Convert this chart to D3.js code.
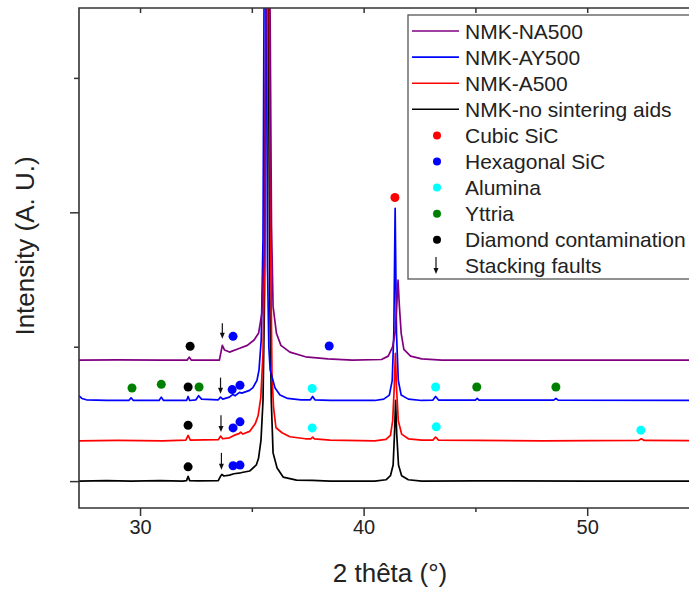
<!DOCTYPE html>
<html>
<head>
<meta charset="utf-8">
<script src="https://cdn.jsdelivr.net/npm/d3@7"></script>
<style>
  body { margin: 0; background: #fff; }
  text { font-family: "Liberation Sans", Arial, sans-serif; fill: #222; }
</style>
</head>
<body>
<div id="container"></div>
<script>
// 2 theta (deg) vs raw counts above each pattern's own baseline
const blackPattern = [
  [27.27, 0], [28.5, 3], [29.6, 0], [30.9, 4], [31.9, 0], [32.08, 4], [32.15, 35], [32.22, 4],
  [32.6, 2], [33.5, 4], [33.58, 30], [33.66, 50], [33.75, 38], [34.0, 45], [34.2, 55], [34.5, 62],
  [34.9, 75], [35.2, 120], [35.3, 170], [35.41, 305], [35.5, 600], [35.57, 1400], [35.63, 3500],
  [35.68, 6000], [35.74, 3500], [35.8, 1400], [35.87, 600], [35.95, 210], [36.13, 97], [36.4, 30],
  [37.0, 7], [37.7, 5], [38.5, 0], [40.5, 0], [41.0, 10], [41.2, 40], [41.32, 120], [41.38, 350],
  [41.43, 600], [41.48, 350], [41.56, 120], [41.7, 40], [42.0, 10], [42.6, 0], [45, 2], [50, 0], [55, 0]
];
const redPattern = [
  [27.27, 0], [29, 3], [31, 0], [32.05, 5], [32.15, 40], [32.25, 5], [33.5, 8], [33.6, 35], [33.7, 15],
  [34.0, 22], [34.2, 40], [34.45, 55], [34.5, 65], [34.6, 50], [34.9, 70], [35.15, 126], [35.28, 186],
  [35.4, 320], [35.5, 650], [35.58, 1500], [35.65, 3500], [35.71, 6000], [35.77, 3500], [35.84, 1500],
  [35.9, 500], [35.97, 250], [36.08, 97], [36.35, 60], [36.7, 30], [37.4, 15], [37.65, 15], [37.72, 28],
  [37.8, 15], [38.5, 5], [40.5, 0], [41.0, 10], [41.2, 40], [41.3, 150], [41.37, 400], [41.42, 650],
  [41.47, 400], [41.55, 150], [41.7, 50], [42.0, 15], [42.6, 5], [43.1, 5], [43.22, 28], [43.35, 5],
  [45, 3], [48, 0], [52.3, 3], [52.42, 15], [52.55, 3], [55, 0]
];
const bluePattern = [
  [27.27, 35], [27.4, 15], [27.6, 5], [28.5, 0], [29.5, 0], [29.6, 20], [29.7, 0], [30.85, 0],
  [30.95, 25], [31.05, 0], [32.08, 0], [32.15, 30], [32.22, 0], [32.5, 5], [32.62, 35], [32.75, 10],
  [33.5, 5], [33.6, 25], [33.7, 10], [34.0, 25], [34.15, 45], [34.25, 35], [34.45, 60], [34.55, 55],
  [34.9, 75], [35.05, 95], [35.23, 150], [35.32, 226], [35.42, 450], [35.5, 1200], [35.56, 3500],
  [35.6, 6000], [35.66, 3000], [35.7, 1000], [35.76, 400], [35.82, 226], [36.04, 92], [36.26, 40],
  [36.6, 15], [37.2, 5], [37.62, 5], [37.72, 30], [37.82, 5], [38.5, 0], [40.5, 0], [40.9, 10],
  [41.15, 40], [41.28, 150], [41.35, 500], [41.41, 1430], [41.47, 500], [41.55, 150], [41.68, 40],
  [42.0, 10], [42.6, 0], [43.1, 3], [43.22, 30], [43.35, 3], [45.0, 3], [45.08, 15], [45.16, 3],
  [48.5, 3], [48.6, 15], [48.7, 3], [55, 0]
];
const purplePattern = [
  [27.27, 0], [29, 2], [31, 0], [32.1, 0], [32.2, 22], [32.3, 0], [33.55, 0], [33.62, 60], [33.68, 110],
  [33.78, 75], [34.0, 60], [34.4, 85], [34.8, 110], [35.1, 150], [35.3, 200], [35.45, 350], [35.55, 800],
  [35.65, 3000], [35.72, 6000], [35.8, 3000], [35.88, 1000], [35.95, 400], [36.1, 200], [36.3, 110],
  [36.7, 60], [37.4, 25], [38.4, 10], [39.5, 0], [40.8, 5], [41.1, 30], [41.3, 100], [41.42, 220],
  [41.48, 400], [41.54, 595], [41.6, 400], [41.68, 200], [41.8, 80], [42.1, 30], [42.6, 10], [43.5, 0], [55, 0]
];

const seriesNames = ["NMK-NA500", "NMK-AY500", "NMK-A500", "NMK-no sintering aids"];
const seriesColors = ["#800080", "#0000ff", "#ff0000", "#000000"];
const seriesOffsets = [900, 600, 300, 0];
const seriesData = [purplePattern, bluePattern, redPattern, blackPattern];

const phaseNames = ["Cubic SiC", "Hexagonal SiC", "Alumina", "Yttria", "Diamond contamination"];
const phaseColors = ["#ff0000", "#0000ff", "#00ffff", "#008000", "#000000"];

// marker positions: [2 theta, intensity, phase index]
const phaseMarks = [
  [41.4, 2110, 0],
  [32.24, 1003, 4], [34.16, 1077, 1], [38.46, 1005, 1],
  [29.64, 693, 3], [30.95, 720, 3], [32.15, 700, 4], [32.64, 700, 3], [34.12, 681, 1], [34.47, 713, 1],
  [37.7, 689, 2], [43.22, 700, 2], [45.06, 700, 3], [48.6, 700, 3],
  [32.15, 416, 4], [34.16, 396, 1], [34.47, 441, 1], [37.7, 396, 2], [43.25, 404, 2], [52.4, 379, 2],
  [32.15, 106, 4], [34.16, 114, 1], [34.47, 119, 1]
];
// stacking fault arrows: [2 theta, top, bottom]
const faultArrows = [[33.68, 1175, 1060], [33.6, 770, 650], [33.62, 490, 365], [33.64, 210, 85]];

const xTicks = [30, 40, 50];
const xMinorTicks = [35, 45];
const yTicks = [0, 2000];
const yMinorTicks = [1000, 3000];

const width = 689, height = 589;
const plotLeft = 79, plotRight = 699, plotTop = 8, plotBottom = 508;

const x = d3.scaleLinear().domain([27.27, 55]).range([plotLeft, plotRight]);
const y = d3.scaleLinear().domain([-200, 3520]).range([plotBottom, plotTop]);

const svg = d3.select("#container").append("svg")
  .attr("width", width).attr("height", height);

svg.append("clipPath").attr("id", "plot-clip")
  .append("rect")
  .attr("x", plotLeft).attr("y", plotTop)
  .attr("width", plotRight - plotLeft).attr("height", plotBottom - plotTop);

const line = d3.line().x((d) => x(d[0])).y((d) => y(d[1]));

const plot = svg.append("g").attr("clip-path", "url(#plot-clip)");

// draw back to front: black, red, blue, purple
[3, 2, 1, 0].forEach((i) => {
  plot.append("path")
    .datum(seriesData[i].map((d) => [d[0], d[1] + seriesOffsets[i]]))
    .attr("d", line)
    .attr("fill", "none")
    .attr("stroke", seriesColors[i])
    .attr("stroke-width", 1.7)
    .attr("stroke-linejoin", "round");
});

plot.selectAll("circle.mark")
  .data(phaseMarks)
  .enter()
  .append("circle")
  .attr("class", "mark")
  .attr("cx", (d) => x(d[0]))
  .attr("cy", (d) => y(d[1]))
  .attr("r", 4.5)
  .attr("fill", (d) => phaseColors[d[2]]);

const drawArrow = (g, x1, y1, y2) => {
  g.append("line")
    .attr("x1", x1).attr("x2", x1)
    .attr("y1", y1).attr("y2", y2 - 4)
    .attr("stroke", "#111").attr("stroke-width", 1.2);
  g.append("path")
    .attr("d", `M${x1 - 2.5},${y2 - 6} L${x1},${y2} L${x1 + 2.5},${y2 - 6} Z`)
    .attr("fill", "#111");
};
faultArrows.forEach((d) => drawArrow(plot, x(d[0]), y(d[1]), y(d[2])));

// axes
const axisColor = "#333";
const styleAxis = (g) => {
  g.selectAll("path.domain").remove();
  g.selectAll("line").attr("stroke", axisColor).attr("stroke-width", 1.5);
  g.selectAll("text").attr("font-size", "20px").attr("fill", "#222")
    .attr("font-family", '"Liberation Sans", Arial, sans-serif');
};

svg.append("g").attr("transform", `translate(0,${plotBottom})`)
  .call(d3.axisBottom(x).tickValues(xTicks).tickFormat(d3.format("d")).tickSize(8).tickPadding(4))
  .call(styleAxis);
svg.append("g").attr("transform", `translate(0,${plotBottom})`)
  .call(d3.axisBottom(x).tickValues(xMinorTicks).tickFormat("").tickSize(4))
  .call(styleAxis);
svg.append("g").attr("transform", `translate(0,${plotTop})`)
  .call(d3.axisTop(x).tickValues(xTicks.concat(xMinorTicks)).tickFormat("").tickSize(-5))
  .call(styleAxis);
svg.append("g").attr("transform", `translate(${plotLeft},0)`)
  .call(d3.axisLeft(y).tickValues(yTicks).tickFormat("").tickSize(9))
  .call(styleAxis);
svg.append("g").attr("transform", `translate(${plotLeft},0)`)
  .call(d3.axisLeft(y).tickValues(yMinorTicks).tickFormat("").tickSize(5))
  .call(styleAxis);

// frame
svg.append("path")
  .attr("d", `M${plotRight},${plotTop} L${plotLeft},${plotTop} L${plotLeft},${plotBottom} L${plotRight},${plotBottom}`)
  .attr("fill", "none")
  .attr("stroke", axisColor)
  .attr("stroke-width", 1.6);

svg.append("text")
  .attr("x", 390).attr("y", 582)
  .attr("text-anchor", "middle")
  .attr("font-size", "26px")
  .text("2 thêta (°)");

svg.append("text")
  .attr("transform", "translate(34,246) rotate(-90)")
  .attr("text-anchor", "middle")
  .attr("font-size", "26px")
  .text("Intensity (A. U.)");

// legend
const legend = svg.append("g");
legend.append("rect")
  .attr("x", 408).attr("y", 15)
  .attr("width", 300).attr("height", 264)
  .attr("fill", "#fff")
  .attr("stroke", "#555")
  .attr("stroke-width", 1.3);

const rowY = (i) => 31 + i * 26.1;
seriesNames.forEach((name, i) => {
  legend.append("line")
    .attr("x1", 412).attr("x2", 459)
    .attr("y1", rowY(i)).attr("y2", rowY(i))
    .attr("stroke", seriesColors[i]).attr("stroke-width", 1.6);
  legend.append("text")
    .attr("x", 465).attr("y", rowY(i)).attr("dy", "0.36em")
    .attr("font-size", "21px").text(name);
});
phaseNames.forEach((name, j) => {
  const i = j + seriesNames.length;
  legend.append("circle")
    .attr("cx", 437).attr("cy", rowY(i)).attr("r", 4)
    .attr("fill", phaseColors[j]);
  legend.append("text")
    .attr("x", 465).attr("y", rowY(i)).attr("dy", "0.36em")
    .attr("font-size", "21px").text(name);
});
const faultRow = rowY(phaseNames.length + seriesNames.length);
drawArrow(legend, 436, faultRow - 9, faultRow + 8);
legend.append("text")
  .attr("x", 465).attr("y", faultRow).attr("dy", "0.36em")
  .attr("font-size", "21px").text("Stacking faults");
</script>
</body>
</html>
